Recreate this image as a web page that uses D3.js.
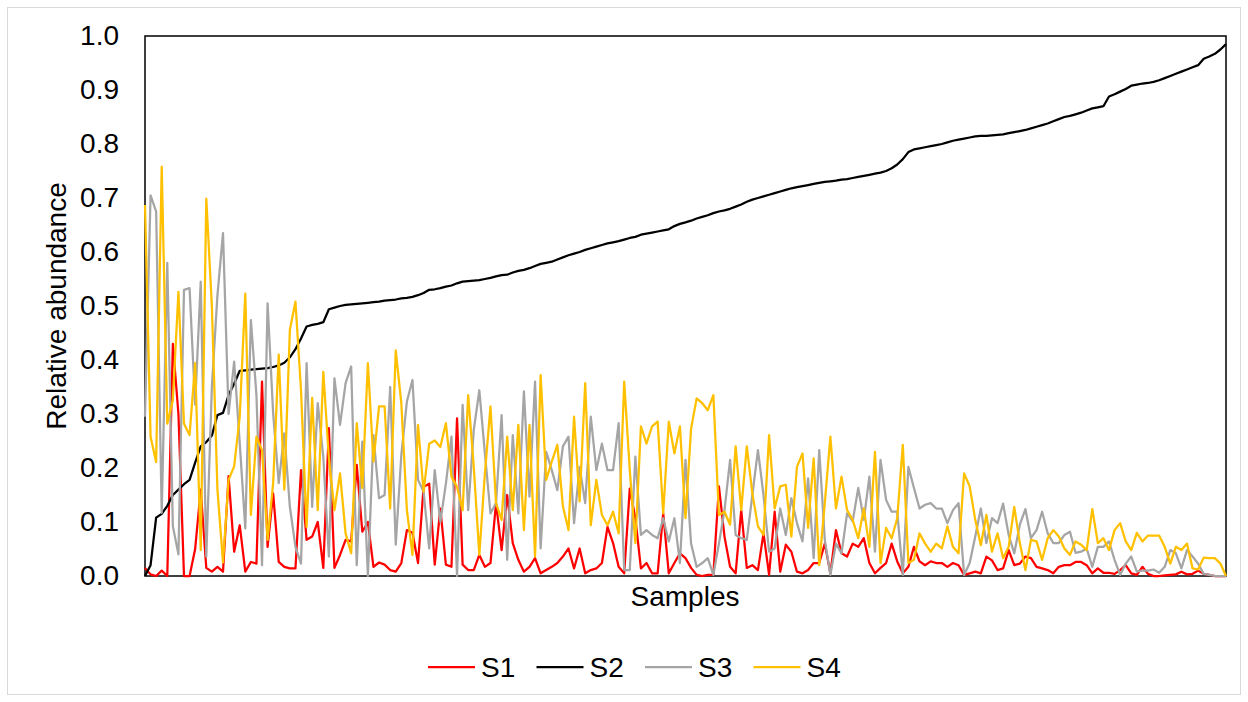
<!DOCTYPE html>
<html>
<head>
<meta charset="utf-8">
<script src="https://cdn.jsdelivr.net/npm/d3@7"></script>
<style>
  body { margin: 0; background: #fff; }
  svg { display: block; font-family: "Liberation Sans", Arial, sans-serif; }
</style>
</head>
<body>
<svg id="chart" width="1248" height="702"></svg>
<script>
// relative abundance per sample, samples ordered by S2
var s1 = [0.015, 0.003, 0.0, 0.01, 0.0, 0.43, 0.30, 0.0, 0.0, 0.05, 0.16, 0.015, 0.008, 0.017, 0.008, 0.185,
  0.045, 0.094, 0.008, 0.026, 0.023, 0.36, 0.054, 0.153, 0.026, 0.017, 0.014, 0.014, 0.196, 0.067, 0.073, 0.10,
  0.015, 0.274, 0.015, 0.039, 0.067, 0.064, 0.206, 0.082, 0.10, 0.017, 0.025, 0.021, 0.011, 0.008, 0.024, 0.085, 0.08,
  0.024, 0.165, 0.171, 0.021, 0.125, 0.021, 0.017, 0.292, 0.021, 0.011, 0.011, 0.039, 0.017, 0.024, 0.135, 0.048,
  0.15, 0.061, 0.03, 0.008, 0.017, 0.033, 0.005, 0.011, 0.017, 0.024, 0.036, 0.051, 0.014, 0.051, 0.005, 0.011,
  0.014, 0.024, 0.091, 0.061, 0.017, 0.005, 0.162, 0.107, 0.014, 0.024, 0.005, 0.005, 0.116, 0.005, 0.024, 0.042,
  0.033, 0.015, 0.002, 0.0, 0.002, 0.002, 0.166, 0.073, 0.017, 0.005, 0.122, 0.015, 0.02, 0.011, 0.079, 0.002, 0.119, 0.008,
  0.058, 0.045, 0.008, 0.005, 0.011, 0.024, 0.024, 0.06, 0.005, 0.085, 0.042, 0.036, 0.06, 0.054, 0.07, 0.024, 0.005, 0.015,
  0.024, 0.06, 0.027, 0.005, 0.017, 0.054, 0.027, 0.02, 0.027, 0.024, 0.024, 0.017, 0.024, 0.02, 0.002, 0.005, 0.008, 0.005,
  0.036, 0.029, 0.011, 0.014, 0.048, 0.02, 0.023, 0.036, 0.033, 0.017, 0.014, 0.011, 0.005, 0.017, 0.02, 0.02, 0.026, 0.026,
  0.02, 0.005, 0.014, 0.006, 0.006, 0.004, 0.011, 0.02, 0.005, 0.002, 0.017, 0.004, 0.0, 0.0, 0.001, 0.002, 0.003, 0.008,
  0.003, 0.004, 0.01, 0.004, 0.002, 0.0, 0.0, 0.0];

var s2 = [0.0, 0.02, 0.108, 0.115, 0.13, 0.15, 0.16, 0.17, 0.178, 0.21, 0.24, 0.248, 0.26, 0.298, 0.302, 0.335,
  0.356, 0.38, 0.381, 0.382, 0.383, 0.384, 0.385, 0.387, 0.39, 0.395, 0.405, 0.42, 0.44, 0.462, 0.465, 0.467,
  0.47, 0.494, 0.497, 0.50, 0.502, 0.503, 0.504, 0.505, 0.506, 0.507, 0.508, 0.51, 0.511, 0.512, 0.514, 0.515, 0.517,
  0.52, 0.524, 0.53, 0.531, 0.533, 0.536, 0.538, 0.542, 0.545, 0.546, 0.547, 0.548, 0.55, 0.552, 0.555, 0.557,
  0.558, 0.562, 0.565, 0.567, 0.57, 0.574, 0.578, 0.58, 0.582, 0.586, 0.59, 0.594, 0.597, 0.60, 0.604, 0.607,
  0.61, 0.613, 0.616, 0.618, 0.62, 0.623, 0.626, 0.628, 0.632, 0.634, 0.636, 0.638, 0.64, 0.642, 0.648, 0.652,
  0.655, 0.658, 0.662, 0.665, 0.668, 0.672, 0.675, 0.677, 0.68, 0.684, 0.688, 0.693, 0.697, 0.70, 0.703, 0.706, 0.709, 0.712,
  0.715, 0.718, 0.72, 0.722, 0.724, 0.726, 0.728, 0.73, 0.731, 0.732, 0.734, 0.735, 0.737, 0.739, 0.741, 0.743, 0.745, 0.747,
  0.75, 0.755, 0.762, 0.772, 0.785, 0.79, 0.792, 0.794, 0.796, 0.798, 0.80, 0.803, 0.806, 0.808, 0.81, 0.812, 0.814, 0.815,
  0.815, 0.816, 0.817, 0.818, 0.82, 0.822, 0.824, 0.826, 0.829, 0.832, 0.835, 0.838, 0.842, 0.846, 0.85, 0.852, 0.855, 0.858,
  0.862, 0.866, 0.868, 0.87, 0.888, 0.892, 0.897, 0.902, 0.908, 0.91, 0.912, 0.913, 0.915, 0.918, 0.922, 0.926, 0.93, 0.934,
  0.938, 0.942, 0.946, 0.958, 0.962, 0.967, 0.975, 0.985];

var s3 = [0.295, 0.705, 0.675, 0.117, 0.58, 0.092, 0.04, 0.53, 0.533, 0.317, 0.545, 0.036, 0.35, 0.52, 0.635, 0.30,
  0.397, 0.246, 0.088, 0.474, 0.335, 0.02, 0.505, 0.301, 0.172, 0.264, 0.128, 0.054, 0.023, 0.394, 0.128, 0.32,
  0.22, 0.036, 0.366, 0.28, 0.357, 0.388, 0.02, 0.249, 0.0, 0.261, 0.144, 0.15, 0.35, 0.058, 0.224, 0.323, 0.363,
  0.178, 0.156, 0.051, 0.196, 0.10, 0.171, 0.258, 0.0, 0.317, 0.122, 0.27, 0.344, 0.227, 0.116, 0.135, 0.298,
  0.03, 0.261, 0.116, 0.342, 0.147, 0.36, 0.051, 0.23, 0.196, 0.159, 0.24, 0.258, 0.098, 0.202, 0.135, 0.295,
  0.196, 0.245, 0.196, 0.196, 0.283, 0.011, 0.011, 0.221, 0.076, 0.085, 0.076, 0.07, 0.107, 0.064, 0.107, 0.024,
  0.215, 0.06, 0.017, 0.024, 0.033, 0.002, 0.06, 0.122, 0.215, 0.076, 0.07, 0.067, 0.15, 0.233, 0.15, 0.045, 0.051, 0.125,
  0.076, 0.144, 0.098, 0.064, 0.181, 0.033, 0.233, 0.067, 0.002, 0.06, 0.042, 0.116, 0.101, 0.163, 0.104, 0.184, 0.045, 0.215,
  0.141, 0.119, 0.119, 0.002, 0.202, 0.163, 0.125, 0.132, 0.135, 0.125, 0.125, 0.098, 0.122, 0.135, 0.002, 0.024, 0.073, 0.125,
  0.061, 0.107, 0.098, 0.134, 0.076, 0.042, 0.095, 0.124, 0.07, 0.085, 0.119, 0.079, 0.061, 0.061, 0.076, 0.082, 0.043, 0.045,
  0.051, 0.017, 0.054, 0.054, 0.064, 0.03, 0.002, 0.023, 0.036, 0.008, 0.01, 0.01, 0.012, 0.006, 0.017, 0.048, 0.042, 0.014,
  0.048, 0.036, 0.023, 0.004, 0.002, 0.0, 0.0, 0.0];

var s4 = [0.687, 0.258, 0.211, 0.758, 0.282, 0.326, 0.526, 0.282, 0.261, 0.394, 0.048, 0.699, 0.50, 0.16, 0.025, 0.178,
  0.203, 0.295, 0.523, 0.113, 0.258, 0.233, 0.067, 0.172, 0.41, 0.16, 0.456, 0.508, 0.344, 0.091, 0.33, 0.122,
  0.378, 0.218, 0.122, 0.19, 0.079, 0.042, 0.283, 0.163, 0.394, 0.212, 0.314, 0.314, 0.125, 0.418, 0.32, 0.122, 0.039,
  0.28, 0.156, 0.245, 0.251, 0.239, 0.283, 0.184, 0.165, 0.122, 0.335, 0.202, 0.039, 0.19, 0.314, 0.135, 0.104,
  0.258, 0.122, 0.28, 0.085, 0.28, 0.036, 0.372, 0.178, 0.212, 0.243, 0.129, 0.085, 0.295, 0.138, 0.357, 0.094,
  0.178, 0.113, 0.094, 0.119, 0.079, 0.36, 0.196, 0.061, 0.277, 0.245, 0.277, 0.286, 0.116, 0.286, 0.227, 0.277,
  0.107, 0.273, 0.329, 0.32, 0.307, 0.335, 0.113, 0.119, 0.095, 0.24, 0.122, 0.24, 0.153, 0.092, 0.076, 0.261, 0.125, 0.166,
  0.169, 0.073, 0.202, 0.227, 0.089, 0.218, 0.02, 0.135, 0.258, 0.125, 0.184, 0.122, 0.104, 0.07, 0.125, 0.054, 0.23, 0.024,
  0.089, 0.07, 0.107, 0.243, 0.024, 0.03, 0.079, 0.06, 0.045, 0.06, 0.051, 0.092, 0.054, 0.042, 0.19, 0.166, 0.104, 0.057,
  0.113, 0.045, 0.079, 0.033, 0.054, 0.128, 0.061, 0.011, 0.067, 0.064, 0.03, 0.07, 0.085, 0.073, 0.051, 0.039, 0.064, 0.058,
  0.048, 0.124, 0.061, 0.07, 0.048, 0.085, 0.098, 0.064, 0.048, 0.08, 0.064, 0.075, 0.075, 0.075, 0.054, 0.023, 0.054, 0.048,
  0.06, 0.014, 0.012, 0.034, 0.033, 0.033, 0.023, 0.0];

var seriesNames = ['S1', 'S2', 'S3', 'S4'];
var colors = ['#FF0000', '#000000', '#A5A5A5', '#FFC000'];
var yTicks = [0, 0.1, 0.2, 0.3, 0.4, 0.5, 0.6, 0.7, 0.8, 0.9, 1.0];

var series = [s1, s2, s3, s4];
var samples = d3.range(s2.length);

var svg = d3.select('#chart');

// chart area border
svg.append('rect')
  .attr('x', 7.5).attr('y', 7.5)
  .attr('width', 1233).attr('height', 687)
  .attr('fill', '#fff')
  .attr('stroke', '#d9d9d9')
  .attr('stroke-width', 1);

var x = d3.scalePoint().domain(samples).range([145, 1226]);
var y = d3.scaleLinear().domain([0, 1]).range([576, 36]);

// plot frame
svg.append('rect')
  .attr('x', 145).attr('y', 36)
  .attr('width', 1081).attr('height', 540)
  .attr('fill', 'none')
  .attr('stroke', '#000')
  .attr('stroke-width', 1.5);

var yAxis = svg.append('g')
  .attr('transform', 'translate(145,0)')
  .call(d3.axisLeft(y)
    .tickValues(yTicks)
    .tickFormat(d3.format('.1f'))
    .tickSize(0)
    .tickPadding(26));
yAxis.select('.domain').remove();
yAxis.selectAll('text')
  .attr('fill', '#000')
  .style('font-size', '28px')
  .style('font-family', '"Liberation Sans", Arial, sans-serif');

var line = d3.line()
  .x(function(d, i) { return x(i); })
  .y(function(d) { return y(d); });

svg.selectAll('path.series')
  .data(series)
  .join('path')
  .attr('class', 'series')
  .attr('fill', 'none')
  .attr('stroke', function(d, i) { return colors[i]; })
  .attr('stroke-width', 2.25)
  .attr('stroke-linejoin', 'round')
  .attr('d', line);

// axis titles
svg.append('text')
  .attr('transform', 'translate(66,306) rotate(-90)')
  .attr('text-anchor', 'middle')
  .style('font-size', '28px')
  .attr('fill', '#000')
  .text('Relative abundance');

svg.append('text')
  .attr('x', 685).attr('y', 606)
  .attr('text-anchor', 'middle')
  .style('font-size', '28px')
  .attr('fill', '#000')
  .text('Samples');

// legend
var legend = svg.selectAll('g.legend')
  .data(seriesNames)
  .join('g')
  .attr('class', 'legend')
  .attr('transform', function(d, i) { return 'translate(' + (428 + i * 108.5) + ',667)'; });

legend.append('line')
  .attr('x1', 0).attr('x2', 47)
  .attr('stroke', function(d, i) { return colors[i]; })
  .attr('stroke-width', 2.25);

legend.append('text')
  .attr('x', 53).attr('y', 10)
  .style('font-size', '28px')
  .attr('fill', '#000')
  .text(function(d) { return d; });
</script>
</body>
</html>
